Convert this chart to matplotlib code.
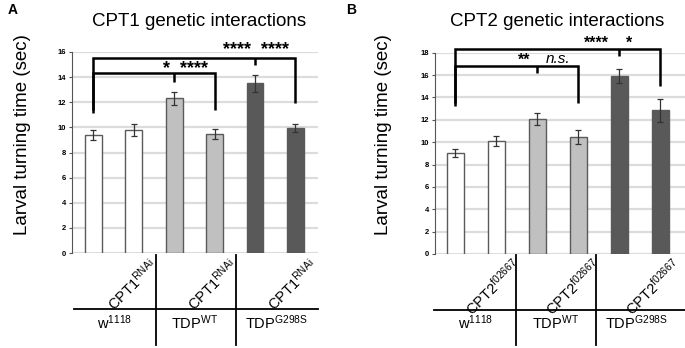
import matplotlib
matplotlib.use("Agg")
import matplotlib.pyplot as plt

plt.rcParams['font.family'] = ['Liberation Sans', 'DejaVu Sans']
plt.rcParams['mathtext.fontset'] = 'custom'
plt.rcParams['mathtext.rm'] = 'Liberation Sans'
plt.rcParams['mathtext.it'] = 'Liberation Sans:italic'
plt.rcParams['mathtext.bf'] = 'Liberation Sans:bold'

# ---- data ----
groups = [r"w$^{\mathrm{1118}}$", r"TDP$^{\mathrm{WT}}$", r"TDP$^{\mathrm{G298S}}$"]
cpt1_values = [9.4, 9.8, 12.3, 9.5, 13.5, 9.95]
cpt1_errors = [0.4, 0.45, 0.5, 0.4, 0.65, 0.3]
cpt2_values = [9.05, 10.13, 12.07, 10.5, 15.92, 12.85]
cpt2_errors = [0.36, 0.45, 0.5, 0.63, 0.64, 1.05]
bar_colors = ["white", "white", "#c0c0c0", "#c0c0c0", "#595959", "#595959"]
cpt1_label = r"CPT1$^{\mathrm{RNAi}}$"
cpt2_label = r"CPT2$^{\mathrm{f02667}}$"
cpt1_yticks = [0, 2, 4, 6, 8, 10, 12, 14, 16]
cpt2_yticks = [0, 2, 4, 6, 8, 10, 12, 14, 16, 18]

W, H = 685, 348
fig = plt.figure(figsize=(W / 100, H / 100), dpi=100)


def px_axes(l, r, t, b):
    return fig.add_axes([l / W, 1 - b / H, (r - l) / W, (b - t) / H])


def draw_panel(ax, vals, errs, yticks, xlim):
    x = list(range(len(vals)))
    ax.set_axisbelow(True)
    for yt in yticks:
        ax.axhline(yt, color="#dcdcdc", lw=1.6, zorder=0)
    ax.bar(x, vals, width=0.42, color=bar_colors, edgecolor="#5a5a5a",
           linewidth=1.0, zorder=2)
    ax.errorbar(x, vals, yerr=errs, fmt="none", ecolor="#333333",
                elinewidth=0.9, capsize=2, capthick=0.9, zorder=3)
    ax.set_xlim(*xlim)
    ax.set_ylim(0, yticks[-1])
    ax.set_yticks(yticks)
    ax.set_yticklabels([str(t) for t in yticks], fontsize=5.5,
                       fontweight="bold")
    ax.set_xticks([])
    for s in ["top", "right", "bottom"]:
        ax.spines[s].set_visible(False)
    ax.spines["left"].set_color("#555555")
    ax.spines["left"].set_linewidth(0.8)
    ax.tick_params(axis="y", length=2.5, width=0.8, color="#555555", pad=2)


def bracket(ax, xl, xr, xc, ytop, yl, yr, yc, lw=1.8):
    kw = dict(color="black", lw=lw, clip_on=False, zorder=5,
              solid_capstyle="butt", solid_joinstyle="miter")
    ax.plot([xl, xl, xr, xr], [yl, ytop, ytop, yr], **kw)
    ax.plot([xc, xc], [ytop, yc], **kw)


def sig(ax, x, y, s, size, style="normal", weight="bold"):
    ax.text(x, y, s, ha="center", va="baseline", fontsize=size,
            fontweight=weight, fontstyle=style, clip_on=False, zorder=6)


# ---- Panel A ----
axA = px_axes(72, 318, 52, 253)
draw_panel(axA, cpt1_values, cpt1_errors, cpt1_yticks, (-0.53, 5.56))
bracket(axA, 0, 5, 4, 15.53, 11.15, 11.94, 14.95)
bracket(axA, 0, 3, 2, 14.33, 11.39, 11.39, 13.6)
sig(axA, 3.55, 15.82, "****", 13)
sig(axA, 4.5, 15.82, "****", 13)
sig(axA, 1.8, 14.32, "*", 13)
sig(axA, 2.5, 14.32, "****", 13)

# ---- Panel B ----
axB = px_axes(435, 685, 52.7, 254)
draw_panel(axB, cpt2_values, cpt2_errors, cpt2_yticks, (-0.5, 5.6))
bracket(axB, 0, 5, 4, 18.34, 13.24, 15.03, 17.7)
bracket(axB, 0, 3, 2, 16.8, 13.5, 13.5, 16.2)
sig(axB, 3.44, 18.4, "****", 11.5)
sig(axB, 4.23, 18.4, "*", 11.5)
sig(axB, 1.67, 16.9, "**", 11.5)
sig(axB, 2.5, 17.1, "n.s.", 11, style="italic", weight="normal")

# ---- titles, labels, panel letters ----
fig.text(199 / W, 1 - 21 / H, "CPT1 genetic interactions", ha="center",
         va="center", fontsize=13.5)
fig.text(557 / W, 1 - 21 / H, "CPT2 genetic interactions", ha="center",
         va="center", fontsize=13.5)
fig.text(8 / W, 1 - 10 / H, "A", ha="left", va="center", fontsize=10,
         fontweight="bold")
fig.text(346 / W, 1 - 10 / H, "B", ha="left", va="center", fontsize=10,
         fontweight="bold")
fig.text(23 / W, 1 - 135 / H, "Larval turning time (sec)", rotation=90,
         ha="center", va="center", fontsize=13.5)
fig.text(383 / W, 1 - 135 / H, "Larval turning time (sec)", rotation=90,
         ha="center", va="center", fontsize=13.5)


# ---- genotype table below axes ----
def table(label, hline, vlines, centers, rot_anchor_px):
    lkw = dict(color="black", lw=1.3)
    fig.add_artist(plt.Line2D([hline[0] / W, hline[1] / W],
                              [1 - hline[2] / H, 1 - hline[2] / H], **lkw))
    for vx in vlines:
        fig.add_artist(plt.Line2D([vx / W, vx / W],
                                  [1 - 255 / H, 1 - 345 / H], **lkw))
    for g, cx in zip(groups, centers):
        fig.text(cx / W, 1 - 323 / H, g, ha="center", va="center",
                 fontsize=10.5)
    for (ax_px, ay_px) in rot_anchor_px:
        fig.text(ax_px / W, 1 - ay_px / H, label, rotation=45,
                 rotation_mode="anchor", ha="right", va="top", fontsize=10.5)


table(cpt1_label, (74, 318, 309), (156, 236), (115, 195, 276),
      [(148, 256), (228, 256), (308, 256)])
table(cpt2_label, (434, 685, 310), (516, 596), (476, 556, 636),
      [(512, 256), (592, 256), (672, 256)])

fig.savefig("out.png", dpi=100)
